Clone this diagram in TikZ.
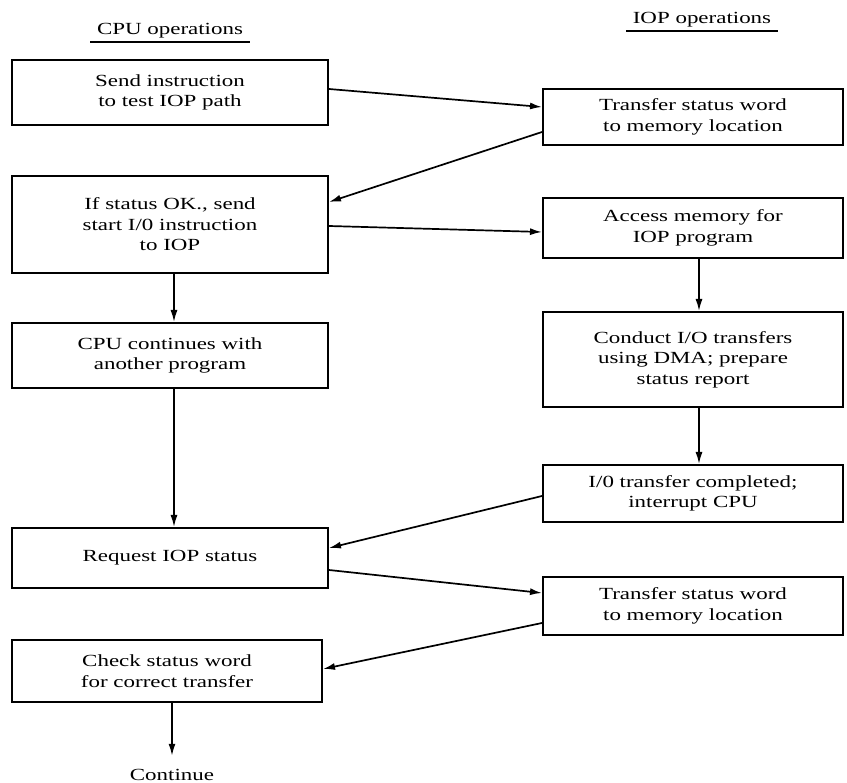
\documentclass[tikz,border=0pt]{standalone}
\usepackage{fontspec}
\setmainfont{Liberation Serif}[FakeStretch=1.35]
\usetikzlibrary{arrows.meta}

\begin{document}
\begin{tikzpicture}[x=1pt, y=-1pt,
    font=\fontsize{17}{20.5}\selectfont,
    opbox/.style={draw, line width=2pt, align=center, inner sep=0pt},
    flow/.style={-{Latex[length=12pt,width=7pt]}, line width=1.7pt}]
    \useasboundingbox (0, 0) rectangle (847, 783);

    % column headings
    \node (cpuhd) at (170, 31) {CPU operations};
    \node (iophd) at (702, 20) {IOP operations};
    \draw[line width=1.5pt] ([xshift=-3pt]cpuhd.south west) -- ([xshift=3pt]cpuhd.south east);
    \draw[line width=1.5pt] ([xshift=-3pt]iophd.south west) -- ([xshift=3pt]iophd.south east);

    % CPU side
    \node[opbox, minimum width=316pt, minimum height=65pt] (cpuA) at (170, 92.5) {Send instruction\\to test IOP path};
    \node[opbox, minimum width=316pt, minimum height=97pt] (cpuB) at (170, 224.5) {If status OK., send\\start I/0 instruction\\to IOP};
    \node[opbox, minimum width=316pt, minimum height=65pt] (cpuC) at (170, 355.5) {CPU continues with\\another program};
    \node[opbox, minimum width=316pt, minimum height=60pt] (cpuD) at (170, 558) {Request IOP status};
    \node[opbox, minimum width=310pt, minimum height=62pt] (cpuE) at (167, 671) {Check status word\\for correct transfer};
    \node (cont) at (172, 775) {Continue};

    % IOP side
    \node[opbox, minimum width=300pt, minimum height=56pt] (iopA) at (693, 117) {Transfer status word\\to memory location};
    \node[opbox, minimum width=300pt, minimum height=60pt] (iopB) at (693, 228) {Access memory for\\IOP program};
    \node[opbox, minimum width=300pt, minimum height=95pt] (iopC) at (693, 359.5) {Conduct I/O transfers\\using DMA; prepare\\status report};
    \node[opbox, minimum width=300pt, minimum height=57pt] (iopD) at (693, 493.5) {I/0 transfer completed;\\interrupt CPU};
    \node[opbox, minimum width=300pt, minimum height=58pt] (iopE) at (693, 606) {Transfer status word\\to memory location};

    % across
    \draw[flow] ([yshift=3.5pt]cpuA.east) -- ([yshift=10pt]iopA.west);
    \draw[flow] ([yshift=-15pt]iopA.west) -- ([yshift=22.5pt]cpuB.east);
    \draw[flow] ([yshift=-1.5pt]cpuB.east) -- ([yshift=-4pt]iopB.west);
    \draw[flow] ([yshift=-2.5pt]iopD.west) -- ([yshift=10pt]cpuD.east);
    \draw[flow] ([yshift=-12pt]cpuD.east) -- ([yshift=13pt]iopE.west);
    \draw[flow] ([yshift=-17pt]iopE.west) -- ([yshift=2pt]cpuE.east);

    % down
    \draw[flow] ([xshift=4pt]cpuB.south) -- ([xshift=4pt]cpuC.north);
    \draw[flow] ([xshift=4pt]cpuC.south) -- ([xshift=4pt]cpuD.north);
    \draw[flow] ([xshift=6pt]iopB.south) -- ([xshift=6pt]iopC.north);
    \draw[flow] ([xshift=6pt]iopC.south) -- ([xshift=6pt]iopD.north);
    \draw[flow] ([xshift=5pt]cpuE.south) -- ([yshift=10pt]cont.north);
\end{tikzpicture}
\end{document}
